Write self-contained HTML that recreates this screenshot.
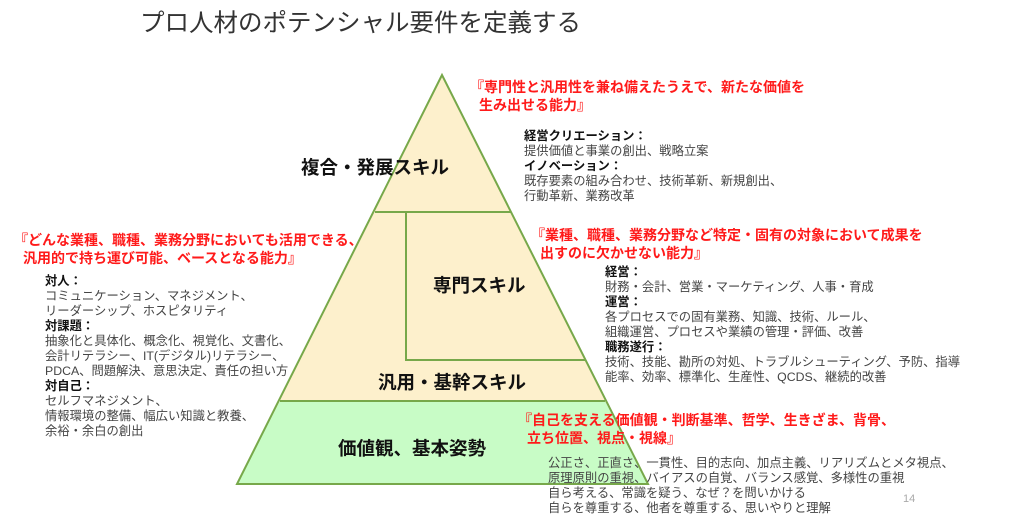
<!DOCTYPE html>
<html><head><meta charset="utf-8"><style>
body{margin:0;width:1024px;height:522px;background:#fff;position:relative;overflow:hidden;font-family:"Liberation Sans","Noto Sans CJK JP",sans-serif;}
.t{position:absolute;white-space:nowrap;}
.g{color:#444;font-size:12.3px;line-height:15px;}
.g b{color:#111;}
.r{color:#ff1a1a;font-weight:bold;font-size:14px;line-height:18px;}
.r span{padding-left:9px;}
.l{font-weight:bold;font-size:18.5px;color:#111;}
</style></head><body>
<svg width="1024" height="522" style="position:absolute;left:0;top:0">
<polygon points="442,75 237,484 648,484" fill="#fdf0cc"/>
<polygon points="280,401 605,401 648,484 237,484" fill="#c8fcc6"/>
<g stroke="#77a84a" stroke-width="2" fill="none">
<polygon points="442,75 237,484 648,484"/>
<line x1="375" y1="212" x2="511" y2="212"/>
<line x1="280" y1="401" x2="605" y2="401"/>
<polyline points="406,213 406,360 585,360"/>
</g>
</svg>
<div class="t" style="left:140px;top:4px;font-size:24.5px;color:#333">プロ人材のポテンシャル要件を定義する</div>
<div class="t r" style="left:470px;top:78px">『専門性と汎用性を兼ね備えたうえで、新たな価値を<br><span>生み出せる能力』</span></div>
<div class="t g" style="left:524px;top:129px"><b>経営クリエーション：</b><br>提供価値と事業の創出、戦略立案<br><b>イノベーション：</b><br>既存要素の組み合わせ、技術革新、新規創出、<br>行動革新、業務改革</div>
<div class="t l" style="left:301px;top:154px">複合・発展スキル</div>
<div class="t r" style="left:14px;top:231px">『どんな業種、職種、業務分野においても活用できる、<br><span>汎用的で持ち運び可能、ベースとなる能力』</span></div>
<div class="t g" style="left:45px;top:274px"><b>対人：</b><br>コミュニケーション、マネジメント、<br>リーダーシップ、ホスピタリティ<br><b>対課題：</b><br>抽象化と具体化、概念化、視覚化、文書化、<br>会計リテラシー、IT(デジタル)リテラシー、<br>PDCA、問題解決、意思決定、責任の担い方<br><b>対自己：</b><br>セルフマネジメント、<br>情報環境の整備、幅広い知識と教養、<br>余裕・余白の創出</div>
<div class="t r" style="left:531px;top:226px">『業種、職種、業務分野など特定・固有の対象において成果を<br><span>出すのに欠かせない能力』</span></div>
<div class="t g" style="left:605px;top:265px"><b>経営：</b><br>財務・会計、営業・マーケティング、人事・育成<br><b>運営：</b><br>各プロセスでの固有業務、知識、技術、ルール、<br>組織運営、プロセスや業績の管理・評価、改善<br><b>職務遂行：</b><br>技術、技能、勘所の対処、トラブルシューティング、予防、指導<br>能率、効率、標準化、生産性、QCDS、継続的改善</div>
<div class="t l" style="left:433px;top:272px">専門スキル</div>
<div class="t l" style="left:378px;top:369px">汎用・基幹スキル</div>
<div class="t r" style="left:518px;top:411px">『自己を支える価値観・判断基準、哲学、生きざま、背骨、<br><span>立ち位置、視点・視線』</span></div>
<div class="t l" style="left:338px;top:435px">価値観、基本姿勢</div>
<div class="t g" style="left:548px;top:456px">公正さ、正直さ、一貫性、目的志向、加点主義、リアリズムとメタ視点、<br>原理原則の重視、バイアスの自覚、バランス感覚、多様性の重視<br>自ら考える、常識を疑う、なぜ？を問いかける<br>自らを尊重する、他者を尊重する、思いやりと理解</div>
<div class="t" style="left:903px;top:493px;font-size:11px;color:#aaa">14</div>
</body></html>
